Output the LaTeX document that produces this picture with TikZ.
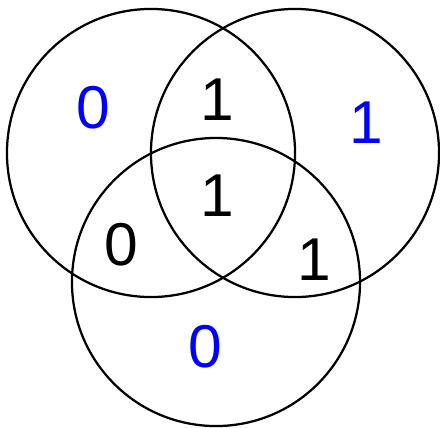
\documentclass[tikz,border=0pt]{standalone}
\usepackage{fontspec}
\setmainfont{Liberation Sans}
\usepackage{xcolor}
\definecolor{valblue}{HTML}{0000FF}

\begin{document}
\begin{tikzpicture}[
    x=0.025cm, y=-0.025cm,
    set/.style={draw=black, circle, minimum size=7.2cm, line width=1.6pt},
    val/.style={font=\fontsize{43}{43}\selectfont, inner sep=0pt, anchor=center},
    outer/.style={val, text=valblue},
]
\useasboundingbox (0,0) rectangle (440,427);

% Mengen
\node[set] (setA) at (151,153) {};
\node[set] (setB) at (295,153) {};
\node[set] (setC) at (216,282) {};

% Werte
\node[outer] (onlyA) at (93,108) {0};
\node[outer] (onlyB) at (366,123) {1};
\node[outer] (onlyC) at (205,347) {0};
\node[val] (AB) at (217,100) {1};
\node[val] (ABC) at (217,196) {1};
\node[val] (AC) at (121,245) {0};
\node[val] (BC) at (314,260) {1};

\end{tikzpicture}
\end{document}
